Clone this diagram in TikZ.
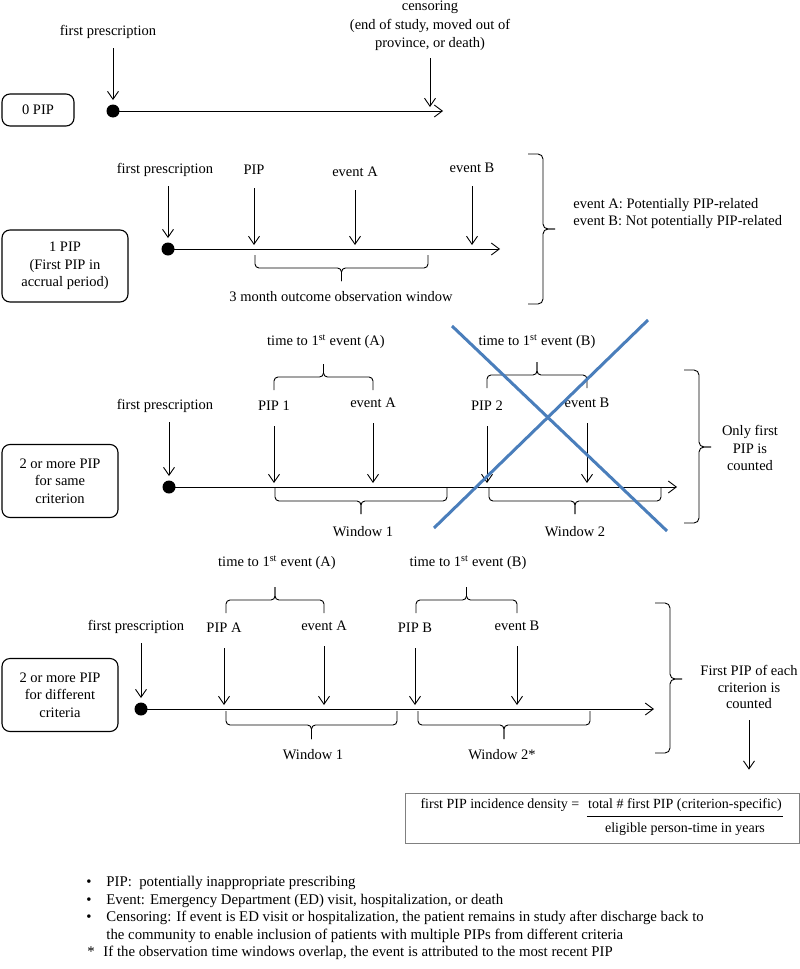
\documentclass[tikz,border=0pt]{standalone}
\usepackage{fontspec}
\setmainfont{Liberation Serif}
\usetikzlibrary{arrows.meta,calc}
\definecolor{crossblue}{RGB}{74,126,187}
\tikzstyle{phase} = [draw, rounded corners=8pt, align=center, inner sep=0pt, line width=1.1pt]
\tikzstyle{lbl} = [align=center, inner sep=1pt]
\tikzstyle{tick} = [-{Straight Barb[length=8pt,width=11pt]}, shorten >=4pt]
\tikzstyle{axis} = [-{Straight Barb[length=8pt,width=12pt]}]
\tikzstyle{startdot} = [circle, fill=black, inner sep=0pt, minimum size=13pt]
% brace with its tip pointing down (positive depth) or up (negative depth)
\newcommand{\winbrace}[4]{%
  \draw[rounded corners=4pt] (#1,#3) |- ({(#1+#2)/2},{#3+(#4)}) -- ({(#1+#2)/2},{#3+2*(#4)});
  \draw[rounded corners=4pt] (#2,#3) |- ({(#1+#2)/2},{#3+(#4)}) -- ({(#1+#2)/2},{#3+2*(#4)});}
% brace on the right side, tip pointing right
\newcommand{\sidebrace}[4]{%
  \draw[rounded corners=5pt] (#1,#2) -| ({#1+15},#4) -- ({#1+27},#4);
  \draw[rounded corners=5pt] (#1,#3) -| ({#1+15},#4) -- ({#1+27},#4);}

\begin{document}
\begin{tikzpicture}[x=1pt, y=-1pt, line width=0.9pt,
  font=\fontsize{14.5}{17.5}\selectfont]
\useasboundingbox (0,0) rectangle (800,969);

% 0 PIP
\node[phase, minimum width=72, minimum height=32] (box0) at (38,110) {0 PIP};
\node[lbl] (fp0) at (108,32) {first prescription};
\node[lbl, font=\fontsize{14.5}{18.5}\selectfont] (cens) at (430,26) {censoring\\(end of study, moved out of\\province, or death)};
\node[startdot] (d0) at (113,111) {};
\coordinate (e0) at (443,111);
\draw[axis] (d0.center) -- (e0);
\draw[tick] ([yshift=-8]fp0.south -| d0) -- (d0.north);
\draw[tick] ([yshift=-6]cens.south) -- (cens.south |- d0);

% 1 PIP
\node[phase, minimum width=126, minimum height=72] (box1) at (65,266) {1 PIP\\(First PIP in\\accrual period)};
\node[lbl] (fp1) at (165,170) {first prescription};
\node[lbl] (pip) at (254,170) {PIP};
\node[lbl] (evA1) at (355,172) {event A};
\node[lbl] (evB1) at (472,168) {event B};
\node[startdot] (d1) at (168,249) {};
\coordinate (e1) at (500,249);
\draw[axis] (d1.center) -- (e1);
\draw[tick] ([yshift=-8]fp1.south -| d1) -- (d1.north);
\foreach \n in {pip,evA1,evB1}
  \draw[tick] ([yshift=-12]\n.south) -- (\n.south |- d1);
\winbrace{255}{428}{255}{13}
\node[lbl] (win0) at (341,297) {3 month outcome observation window};
\sidebrace{528}{154}{304}{229}
\node[lbl, align=left, anchor=west, font=\fontsize{14.5}{17}\selectfont] (evkey) at (572,213.5)
  {event A: Potentially PIP-related\\event B: Not potentially PIP-related};

% 2 or more PIP, same criterion
\node[phase, minimum width=116, minimum height=73] (box2) at (60,481) {2 or more PIP\\for same\\criterion};
\node[lbl] (fp2) at (165,406) {first prescription};
\node[lbl] (pip1) at (274,406) {PIP 1};
\node[lbl] (evA2) at (373,403) {event A};
\node[lbl] (pip2) at (487,406) {PIP 2};
\node[lbl] (evB2) at (587,403) {event B};
\node[startdot] (d2) at (169,487) {};
\coordinate (e2) at (677,487);
\draw[axis] (d2.center) -- (e2);
\draw[tick] ([yshift=-8]fp2.south -| d2) -- (d2.north);
\foreach \n in {pip1,evA2,pip2,evB2}
  \draw[tick] ([yshift=-14]\n.south) -- (\n.south |- d2);
\node[lbl] (tA2) at (326,342) {time to 1\textsuperscript{st} event (A)};
\node[lbl] (tB2) at (537,342) {time to 1\textsuperscript{st} event (B)};
\winbrace{274}{373}{390}{-13}
\winbrace{487}{587}{388}{-13}
\winbrace{275}{447}{488}{13}
\winbrace{489}{661}{488}{13}
\node[lbl] (w1a) at (363,532) {Window 1};
\node[lbl] (w2a) at (575,532) {Window 2};
\sidebrace{684}{370}{523}{447}
\node[lbl] (only) at (750,448) {Only first\\PIP is\\counted};
% second PIP of the same criterion is not counted
\draw[crossblue, line width=3pt] (452,326) -- (667,531);
\draw[crossblue, line width=3pt] (648,320) -- (434,528);

% 2 or more PIP, different criteria
\node[phase, minimum width=116, minimum height=73] (box3) at (60,695) {2 or more PIP\\for different\\criteria};
\node[lbl] (fp3) at (136,627) {first prescription};
\node[lbl] (pipA) at (224,628) {PIP A};
\node[lbl] (evA3) at (324,626) {event A};
\node[lbl] (pipB) at (415,628) {PIP B};
\node[lbl] (evB3) at (517,626) {event B};
\node[startdot] (d3) at (141,709) {};
\coordinate (e3) at (654,709);
\draw[axis] (d3.center) -- (e3);
\draw[tick] ([yshift=-8]fp3.south -| d3) -- (d3.north);
\foreach \n in {pipA,evA3,pipB,evB3}
  \draw[tick] ([yshift=-14]\n.south) -- (\n.south |- d3);
\node[lbl] (tA3) at (277,563) {time to 1\textsuperscript{st} event (A)};
\node[lbl] (tB3) at (468,563) {time to 1\textsuperscript{st} event (B)};
\winbrace{226}{324}{613}{-13}
\winbrace{416}{517}{613}{-13}
\winbrace{226}{397}{711}{14}
\winbrace{418}{590}{711}{14}
\node[lbl] (w1b) at (313,755) {Window 1};
\node[lbl] (w2b) at (502,755) {Window 2*};
\sidebrace{655}{603}{753}{679}
\node[lbl, font=\fontsize{14.5}{16.5}\selectfont] (each) at (749,687) {First PIP of each\\criterion is\\counted};

% incidence density
\node[draw=gray, line width=0.7pt, minimum width=394, minimum height=50] (density) at (602,818) {};
\node[lbl, font=\fontsize{14}{17}\selectfont] (dnum) at (685,805) {total \# first PIP (criterion-specific)};
\node[lbl, anchor=east, font=\fontsize{14}{17}\selectfont] (dlhs) at ([xshift=-6]dnum.west) {first PIP incidence density =};
\node[lbl, font=\fontsize{14}{17}\selectfont] (dden) at (685,829) {eligible person-time in years};
\draw[line width=0.7pt] ([yshift=-3]dnum.south west) -- ([yshift=-3]dnum.south east);
\draw[tick, shorten >=0pt] ([yshift=-10]each.south) -- ([yshift=23]each.south |- density.north);

% notes
\node[anchor=north west, inner sep=0pt, font=\fontsize{14.8}{17.5}\selectfont] (notes) at (86,874)
  {\begin{tabular}{@{}p{20pt}@{}l@{}}
   \textbullet & PIP:~ potentially inappropriate prescribing\\
   \textbullet & Event: Emergency Department (ED) visit, hospitalization, or death\\
   \textbullet & Censoring: If event is ED visit or hospitalization, the patient remains in study after discharge back to\\
               & the community to enable inclusion of patients with multiple PIPs from different criteria\\
   \hspace*{1pt}* & \hspace*{-3pt}If the observation time windows overlap, the event is attributed to the most recent PIP
   \end{tabular}};
\end{tikzpicture}
\end{document}
